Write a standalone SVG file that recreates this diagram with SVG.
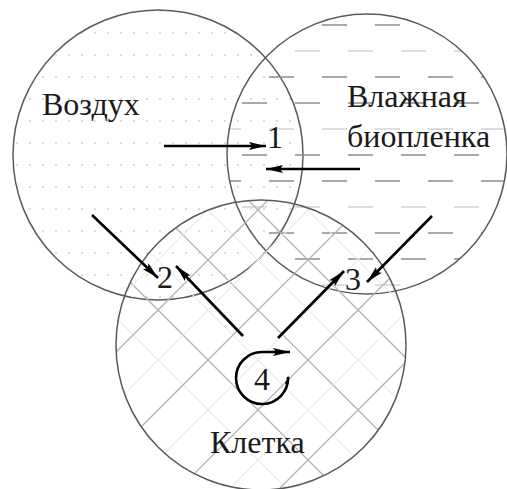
<svg xmlns="http://www.w3.org/2000/svg" width="507" height="489" viewBox="0 0 507 489">
<style>
.ring{fill:none;stroke:#5a5a5a;stroke-width:1.5}
.lbl{font-family:"Liberation Serif","Times New Roman",serif;font-size:32px;fill:#1a1a1a}
.arr{stroke:#000;stroke-width:2.6;fill:none;marker-end:url(#ah)}
.hd{stroke:#b4b4b4;stroke-width:1.3}
.hl{stroke:#ebebeb;stroke-width:1.2}
</style>
<defs>
<marker id="ah" markerUnits="userSpaceOnUse" markerWidth="18" markerHeight="10" refX="17" refY="4" orient="auto">
<path d="M0,0 L17,4 L0,8 L3,4 z" fill="#000"/>
</marker>
<pattern id="dots" patternUnits="userSpaceOnUse" width="13" height="22" x="0" y="0">
<circle cx="4" cy="11" r="0.9" fill="#cdcdcd"/>
</pattern>
<pattern id="dash" patternUnits="userSpaceOnUse" width="53" height="156" x="0" y="0">
<line x1="4" y1="25" x2="29" y2="25" stroke="#8c8c8c" stroke-width="1.5"/>
<line x1="30" y1="51" x2="53" y2="51" stroke="#d2d2d2" stroke-width="1.5"/>
<line x1="0" y1="51" x2="2" y2="51" stroke="#d2d2d2" stroke-width="1.5"/>
<line x1="4" y1="77" x2="29" y2="77" stroke="#8c8c8c" stroke-width="1.5"/>
<line x1="30" y1="103" x2="53" y2="103" stroke="#8c8c8c" stroke-width="1.5"/>
<line x1="0" y1="103" x2="2" y2="103" stroke="#8c8c8c" stroke-width="1.5"/>
<line x1="4" y1="129" x2="29" y2="129" stroke="#d2d2d2" stroke-width="1.5"/>
<line x1="30" y1="155" x2="53" y2="155" stroke="#8c8c8c" stroke-width="1.5"/>
<line x1="0" y1="155" x2="2" y2="155" stroke="#8c8c8c" stroke-width="1.5"/>
</pattern>
<clipPath id="cC"><circle cx="261" cy="345" r="145"/></clipPath>
</defs>
<rect width="507" height="489" fill="#fff"/>

<g id="air">
<circle cx="158" cy="155" r="145" fill="url(#dots)"/>
<circle class="ring" cx="158" cy="155" r="145"/>
<text class="lbl" x="42" y="115">Воздух</text>
</g>

<g id="biofilm">
<circle cx="367" cy="154" r="140" fill="url(#dash)"/>
<circle class="ring" cx="367" cy="154" r="140"/>
<text class="lbl" x="347" y="107">Влажная</text>
<text class="lbl" x="347" y="147">биопленка</text>
</g>

<g id="cell">
<g clip-path="url(#cC)">
<line class="hl" x1="100" y1="2" x2="420" y2="322"/>
<line class="hd" x1="100" y1="52" x2="420" y2="372"/>
<line class="hl" x1="100" y1="102" x2="420" y2="422"/>
<line class="hd" x1="100" y1="152" x2="420" y2="472"/>
<line class="hl" x1="100" y1="202" x2="420" y2="522"/>
<line class="hd" x1="100" y1="252" x2="420" y2="572"/>
<line class="hl" x1="100" y1="302" x2="420" y2="622"/>
<line class="hd" x1="100" y1="-48" x2="420" y2="272"/>
<line class="hl" x1="100" y1="-98" x2="420" y2="222"/>
<line class="hl" x1="100" y1="318" x2="420" y2="-2"/>
<line class="hd" x1="100" y1="368" x2="420" y2="48"/>
<line class="hl" x1="100" y1="418" x2="420" y2="98"/>
<line class="hd" x1="100" y1="468" x2="420" y2="148"/>
<line class="hl" x1="100" y1="518" x2="420" y2="198"/>
<line class="hd" x1="100" y1="568" x2="420" y2="248"/>
<line class="hl" x1="100" y1="618" x2="420" y2="298"/>
<line class="hd" x1="100" y1="668" x2="420" y2="348"/>
<line class="hl" x1="100" y1="718" x2="420" y2="398"/>
</g>
<circle class="ring" cx="261" cy="345" r="145"/>
<text class="lbl" x="210" y="453">Клетка</text>
</g>

<g id="labels">
<text class="lbl" x="267" y="148">1</text>
<text class="lbl" x="157" y="288">2</text>
<text class="lbl" x="345" y="290">3</text>
<text class="lbl" x="254" y="390">4</text>
</g>

<g id="connectors">
<line class="arr" x1="164" y1="146" x2="266" y2="146"/>
<line class="arr" x1="360" y1="169" x2="266" y2="169"/>
<line class="arr" x1="92" y1="215" x2="158" y2="278"/>
<line class="arr" x1="243" y1="336" x2="176" y2="266"/>
<line class="arr" x1="278" y1="338" x2="344" y2="271"/>
<line class="arr" x1="432" y1="216" x2="367" y2="282"/>
<path class="arr" d="M286,384 Q289,379 288,377 A26,26 0 1 1 262,352 L290,352"/>
</g>
</svg>
